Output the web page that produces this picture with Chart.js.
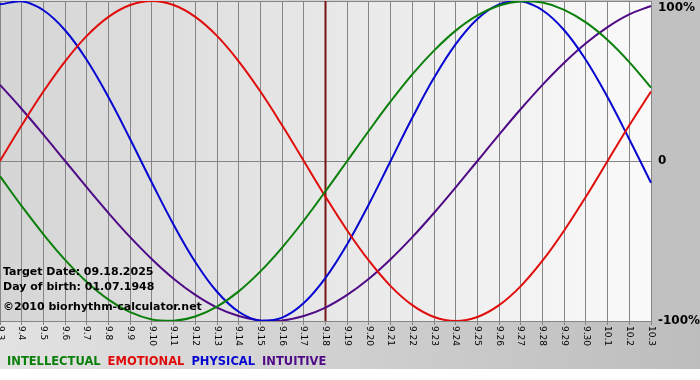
<!DOCTYPE html>
<html>
<head>
<meta charset="utf-8">
<script src="https://cdn.jsdelivr.net/npm/chart.js@4/dist/chart.umd.min.js"></script>
<style>
  html, body { margin: 0; padding: 0; background: #ffffff; }
  canvas { display: block; }
</style>
</head>
<body>
<canvas id="c" width="700" height="380"></canvas>
<script>
const dayLabels = ['9.3','9.4','9.5','9.6','9.7','9.8','9.9','9.10','9.11','9.12','9.13','9.14','9.15','9.16','9.17','9.18','9.19','9.20','9.21','9.22','9.23','9.24','9.25','9.26','9.27','9.28','9.29','9.30','10.1','10.2','10.3'];
const yTickValues = [100, 0, -100];
const yTickLabels = ['100%', '0', '-100%'];
const targetDay = '9.18';
const infoLines = ['Target Date: 09.18.2025', 'Day of birth: 01.07.1948', '\u00A92010 biorhythm-calculator.net'];

const intellectual = [-9.5,-28.2,-45.8,-61.8,-75.6,-86.6,-94.5,-99.0,-99.9,-97.2,-91.0,-81.5,-69.0,-54.1,-37.2,-18.9,0,18.9,37.2,54.1,69.0,81.5,91.0,97.2,99.9,99.0,94.5,86.6,75.6,61.8,45.8];
const emotional = [0,22.3,43.4,62.3,78.2,90.1,97.5,100,97.5,90.1,78.2,62.3,43.4,22.3,0,-22.3,-43.4,-62.3,-78.2,-90.1,-97.5,-100,-97.5,-90.1,-78.2,-62.3,-43.4,-22.3,0,22.3,43.4];
const physical = [97.9,99.8,94.2,81.7,63.1,39.8,13.6,-13.6,-39.8,-63.1,-81.7,-94.2,-99.8,-97.9,-88.8,-73.1,-52.0,-27.0,0,27.0,52.0,73.1,88.8,97.9,99.8,94.2,81.7,63.1,39.8,13.6,-13.6];
const intuitive = [47.6,32.5,16.5,0,-16.5,-32.5,-47.6,-61.4,-73.6,-83.7,-91.6,-96.9,-99.7,-99.7,-96.9,-91.6,-83.7,-73.6,-61.4,-47.6,-32.5,-16.5,0,16.5,32.5,47.6,61.4,73.6,83.7,91.6,96.9];

const seriesNames = ['INTELLECTUAL', 'EMOTIONAL', 'PHYSICAL', 'INTUITIVE'];
const seriesColors = ['#0a7f0a', '#e00b0b', '#0606d0', '#4f0a86'];
const seriesData = [intellectual, emotional, physical, intuitive];

const bgPlugin = {
  id: 'bg',
  beforeDraw(chart) {
    const ctx = chart.ctx, a = chart.chartArea;
    ctx.save();
    ctx.fillStyle = '#ffffff';
    ctx.fillRect(0, 0, chart.width, chart.height);
    let g = ctx.createLinearGradient(0, 0, chart.width, 0);
    g.addColorStop(0, '#e2e2e2');
    g.addColorStop(1, '#bdbdbd');
    ctx.fillStyle = g;
    ctx.fillRect(0, 0, chart.width, 369);
    ctx.fillStyle = '#c1c1c1';
    ctx.fillRect(a.right, 0, chart.width - a.right, a.bottom);
    g = ctx.createLinearGradient(a.left, 0, a.right, 0);
    g.addColorStop(0, '#d5d5d5');
    g.addColorStop(1, '#fafafa');
    ctx.fillStyle = g;
    ctx.fillRect(a.left, a.top, a.right - a.left, a.bottom - a.top);
    ctx.restore();
  },
  beforeDatasetsDraw(chart) {
    const ctx = chart.ctx, a = chart.chartArea, xs = chart.scales.x;
    const x = xs.getPixelForValue(dayLabels.indexOf(targetDay));
    ctx.save();
    ctx.strokeStyle = '#7a1414';
    ctx.lineWidth = 2;
    ctx.beginPath();
    ctx.moveTo(x, a.top);
    ctx.lineTo(x, a.bottom);
    ctx.stroke();
    ctx.restore();
  },
  afterDraw(chart) {
    const ctx = chart.ctx, a = chart.chartArea, xs = chart.scales.x, ys = chart.scales.y;
    ctx.save();
    // x tick labels, rotated clockwise
    ctx.fillStyle = '#000000';
    ctx.font = '9px "DejaVu Sans"';
    ctx.textAlign = 'left';
    ctx.textBaseline = 'middle';
    dayLabels.forEach((lab, i) => {
      const x = xs.getPixelForValue(i);
      ctx.save();
      ctx.translate(x, a.bottom + 5);
      ctx.rotate(Math.PI / 2);
      ctx.fillText(lab, 0, 0);
      ctx.restore();
    });
    // y labels on the right
    ctx.font = 'bold 12px "DejaVu Sans"';
    ctx.textAlign = 'left';
    ctx.textBaseline = 'middle';
    yTickValues.forEach((v, i) => {
      let y = ys.getPixelForValue(v);
      y = Math.max(y, 8);
      ctx.fillText(yTickLabels[i], a.right + 7, y);
    });
    // info text
    ctx.font = 'bold 11px "DejaVu Sans"';
    const infoY = [272, 287, 307];
    infoLines.forEach((t, i) => ctx.fillText(t, 3, infoY[i]));
    // legend
    ctx.font = 'bold 11.5px "DejaVu Sans"';
    let lx = 7;
    seriesNames.forEach((n, i) => {
      ctx.fillStyle = seriesColors[i];
      ctx.fillText(n, lx, 362);
      lx += ctx.measureText(n).width + 7;
    });
    ctx.restore();
  }
};

new Chart(document.getElementById('c'), {
  type: 'line',
  data: {
    labels: dayLabels,
    datasets: seriesNames.map((n, i) => ({
      label: n,
      data: seriesData[i],
      borderColor: seriesColors[i],
      backgroundColor: seriesColors[i],
      borderWidth: 2,
      pointRadius: 0,
      tension: 0.4,
      fill: false
    }))
  },
  options: {
    responsive: false,
    animation: false,
    devicePixelRatio: 1,
    layout: { padding: { top: 1, left: 0, right: 0, bottom: 0 } },
    plugins: { legend: { display: false }, tooltip: { enabled: false } },
    scales: {
      x: {
        type: 'category',
        offset: false,
        border: { display: false },
        grid: { color: '#858585', lineWidth: 1, drawTicks: true, tickLength: 4, tickColor: '#858585' },
        ticks: { display: false, autoSkip: false },
        afterFit(s) { s.height = 59; }
      },
      y: {
        position: 'right',
        min: -100,
        max: 100,
        border: { display: false },
        grid: { color: '#858585', lineWidth: 1, drawTicks: false },
        ticks: { display: false, stepSize: 100 },
        afterFit(s) { s.width = 49; }
      }
    }
  },
  plugins: [bgPlugin]
});
</script>
</body>
</html>
